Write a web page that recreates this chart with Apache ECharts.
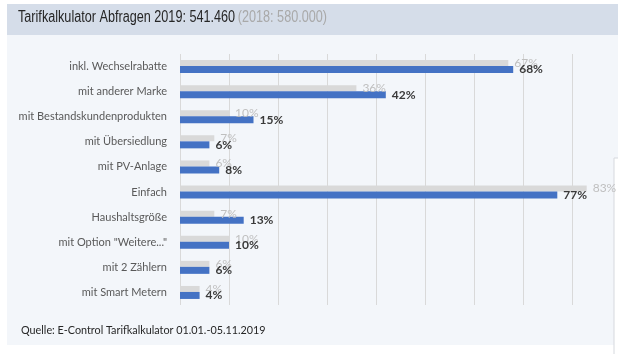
<!DOCTYPE html>
<html>
<head>
<meta charset="utf-8">
<script src="https://cdn.jsdelivr.net/npm/echarts@6/dist/echarts.min.js"></script>
<style>
  html, body { margin: 0; padding: 0; background: #ffffff; }
  #chart { width: 618px; height: 354px; }
</style>
</head>
<body>
<div id="chart"></div>
<script>
var categories = ['inkl. Wechselrabatte', 'mit anderer Marke', 'mit Bestandskundenprodukten', 'mit Übersiedlung', 'mit PV-Anlage', 'Einfach', 'Haushaltsgröße', 'mit Option "Weitere..."', 'mit 2 Zählern', 'mit Smart Metern'];
var values2018 = [67, 36, 10, 7, 6, 83, 7, 10, 6, 4];
var values2019 = [68, 42, 15, 6, 8, 77, 13, 10, 6, 4];

function initChart(dom) {
  var chart = echarts.init(dom, null, { renderer: 'canvas' });

  var option = {
    backgroundColor: '#ffffff',
    animation: false,
    graphic: [
      // panel and title bar
      { type: 'rect', shape: { x: 7, y: 35, width: 611, height: 310 }, style: { fill: '#f3f6fa' }, z: -10 },
      { type: 'rect', shape: { x: 7, y: 4, width: 611, height: 31 }, style: { fill: '#d5dde9' }, z: -10 },
      { type: 'rect', shape: { x: 614, y: 158, width: 6, height: 200 }, style: { fill: '#ffffff', stroke: '#d6d9de', lineWidth: 1 }, z: -9 },
      {
        type: 'text', x: 18, y: 10, scaleX: 0.79,
        style: {
          rich: {
            a: { fontFamily: 'Liberation Sans, sans-serif', fontSize: 16, fill: '#262626' },
            b: { fontFamily: 'Liberation Sans, sans-serif', fontSize: 16, fill: '#a9a9a9' }
          },
          text: '{a|Tarifkalkulator Abfragen 2019: 541.460} {b|(2018: 580.000)}'
        }
      },
      {
        type: 'text', left: 21, top: 325,
        style: { text: 'Quelle: E-Control Tarifkalkulator 01.01.-05.11.2019', fontFamily: 'Lato, sans-serif', fontSize: 10.8, fill: '#262626' }
      }
    ],
    grid: { left: 180, top: 54, width: 392, height: 251 },
    xAxis: {
      type: 'value',
      min: 0,
      max: 80,
      interval: 10,
      axisLabel: { show: false },
      axisLine: { show: false },
      axisTick: { show: false },
      splitLine: { lineStyle: { color: '#d9d9d9', width: 1 } }
    },
    yAxis: {
      type: 'category',
      data: categories,
      inverse: true,
      axisLine: { show: false },
      axisTick: { show: false },
      axisLabel: { color: '#595959', fontFamily: 'Lato, sans-serif', fontSize: 11, margin: 13 }
    },
    series: [
      {
        name: '2018',
        type: 'bar',
        data: values2018,
        barWidth: 6,
        barGap: '0%',
        clip: false,
        itemStyle: { color: '#d9d9d9' },
        label: { show: true, position: 'right', distance: 6, formatter: '{c}%', color: '#bfbfbf', fontFamily: 'Lato, sans-serif', fontSize: 12 }
      },
      {
        name: '2019',
        type: 'bar',
        data: values2019,
        barWidth: 7,
        clip: false,
        itemStyle: { color: '#4472c4' },
        label: { show: true, position: 'right', distance: 6, formatter: '{c}%', color: '#3a3a3a', fontWeight: 'bold', fontFamily: 'Lato, sans-serif', fontSize: 12 }
      }
    ]
  };

  chart.setOption(option);
  return chart;
}

initChart(document.getElementById('chart'));
</script>
</body>
</html>
